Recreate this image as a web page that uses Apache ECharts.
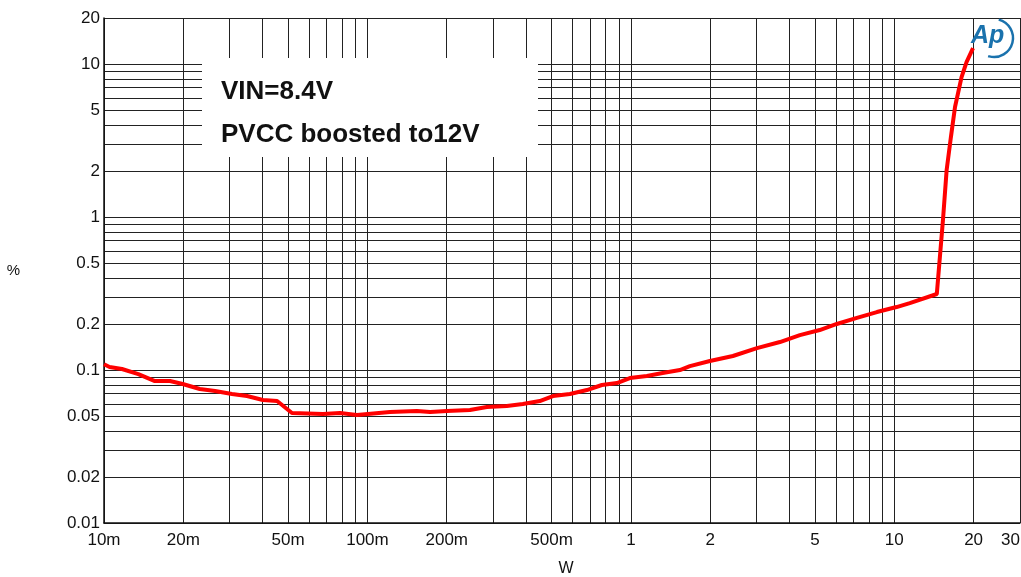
<!DOCTYPE html>
<html>
<head>
<meta charset="utf-8">
<script src="https://cdn.jsdelivr.net/npm/echarts@6/dist/echarts.min.js"></script>
<style>
html, body { margin: 0; padding: 0; background: #fff; }
#main { width: 1021px; height: 577px; }
</style>
</head>
<body>
<div id="main"></div>
<script>
// output power (W) and THD+N (%)
var power = [0.01, 0.0105, 0.0117, 0.0135, 0.0156, 0.0178, 0.0199, 0.0231, 0.0264, 0.0306,
    0.0349, 0.0401, 0.0454, 0.0517, 0.0678, 0.0787, 0.0912, 0.1217, 0.154, 0.173,
    0.200, 0.245, 0.284, 0.338, 0.389, 0.451, 0.506, 0.587, 0.681, 0.776,
    0.885, 0.991, 1.15, 1.32, 1.535, 1.675, 1.995, 2.44, 3.01, 3.68,
    4.38, 5.21, 6.05, 7.21, 8.59, 10.2, 11.45, 14.5, 15.3, 15.8,
    16.4, 17.0, 18.0, 18.8, 19.9];
var thd = [0.109, 0.1046, 0.1015, 0.0941, 0.0847, 0.0847, 0.0810, 0.0751, 0.0729, 0.0697,
    0.0676, 0.0637, 0.0627, 0.0524, 0.0516, 0.0524, 0.0508, 0.0531, 0.0540, 0.0531,
    0.0540, 0.0548, 0.0573, 0.0582, 0.0600, 0.0627, 0.0676, 0.0697, 0.0740, 0.0798,
    0.0822, 0.0886, 0.0913, 0.0955, 0.100, 0.106, 0.1145, 0.1235, 0.139, 0.1524,
    0.169, 0.1825, 0.200, 0.219, 0.2393, 0.258, 0.274, 0.314, 0.956, 2.03,
    3.33, 5.24, 8.22, 10.3, 12.7];

var xLabels = [0.01, 0.02, 0.05, 0.1, 0.2, 0.5, 1, 2, 5, 10, 20, 30];
var yLabels = [0.01, 0.02, 0.05, 0.1, 0.2, 0.5, 1, 2, 5, 10, 20];
var xMin = 0.01, xMax = 30;
var yMin = 0.01, yMax = 20;

var log = Math.log10;

// grid lines at 1..9 of every decade, inside the range
function gridVals(lo, hi) {
    var out = [];
    for (var e = -3; e <= 2; e++) {
        for (var k = 1; k <= 9; k++) {
            var v = k * Math.pow(10, e);
            if (v >= lo * 0.9999 && v <= hi * 1.0001) out.push(log(v));
        }
    }
    out.push(log(hi));
    return out;
}

function fmtW(val) {
    var v = Math.pow(10, val);
    if (v < 0.999) return Math.round(v * 1000) + 'm';
    return String(Math.round(v));
}
function fmtPct(val) {
    var v = Math.pow(10, val);
    return String(parseFloat(v.toPrecision(2)));
}

var data = power.map(function(p, i) { return [log(p), log(thd[i])]; });

var font = 'Liberation Sans, Arial, sans-serif';
var chart = echarts.init(document.getElementById('main'));
chart.setOption({
    backgroundColor: '#fff',
    animation: false,
    grid: { left: 104, right: 1, top: 18, bottom: 54, outerBoundsMode: 'none', containLabel: false },
    xAxis: {
        type: 'value',
        min: log(xMin),
        max: log(xMax),
        name: 'W',
        nameLocation: 'middle',
        nameGap: 38,
        nameTextStyle: { color: '#111', fontSize: 16, fontFamily: font, padding: [0, 0, 0, 8] },
        axisLine: { show: true, onZero: false, lineStyle: { color: '#111', width: 1.5 } },
        axisTick: { show: false, customValues: gridVals(xMin, xMax) },
        axisLabel: {
            customValues: xLabels.map(log),
            formatter: fmtW,
            alignMaxLabel: 'right',
            color: '#111', fontSize: 17, fontFamily: font, margin: 9
        },
        splitLine: { show: true, lineStyle: { color: '#222', width: 1 } }
    },
    yAxis: {
        type: 'value',
        min: log(yMin),
        max: log(yMax),
        name: '%',
        nameLocation: 'middle',
        nameGap: 84,
        nameRotate: 0,
        nameTextStyle: { color: '#111', fontSize: 15, fontFamily: font },
        axisLine: { show: true, onZero: false, lineStyle: { color: '#111', width: 1.5 } },
        axisTick: { show: false, customValues: gridVals(yMin, yMax) },
        axisLabel: {
            customValues: yLabels.map(log),
            formatter: fmtPct,
            color: '#111', fontSize: 17, fontFamily: font, margin: 4
        },
        splitLine: { show: true, lineStyle: { color: '#222', width: 1 } }
    },
    graphic: [
        { type: 'rect', shape: { x: 202, y: 58, width: 336, height: 99 }, style: { fill: '#fff' }, z: 50 },
        { type: 'text', x: 221, y: 79, z: 51, style: { text: 'VIN=8.4V', fill: '#111', font: 'bold 26px ' + font, verticalAlign: 'top' } },
        { type: 'text', x: 221, y: 122, z: 51, style: { text: 'PVCC boosted to12V', fill: '#111', font: 'bold 26px ' + font, verticalAlign: 'top' } },
        // Ap logo
        { type: 'text', x: 971, y: 24, z: 51, style: { text: 'Ap', fill: '#1a72ad', font: 'italic bold 25px ' + font, verticalAlign: 'top' } },
        { type: 'arc', z: 51, shape: { cx: 994, cy: 38, r: 19, startAngle: -Math.PI * 0.42, endAngle: Math.PI * 0.6 },
          style: { stroke: '#1a72ad', lineWidth: 2.5, fill: null } }
    ],
    series: [{
        type: 'line',
        data: data,
        showSymbol: false,
        symbol: 'none',
        z: 60,
        lineStyle: { color: '#ff0000', width: 4 }
    }]
});
</script>
</body>
</html>
